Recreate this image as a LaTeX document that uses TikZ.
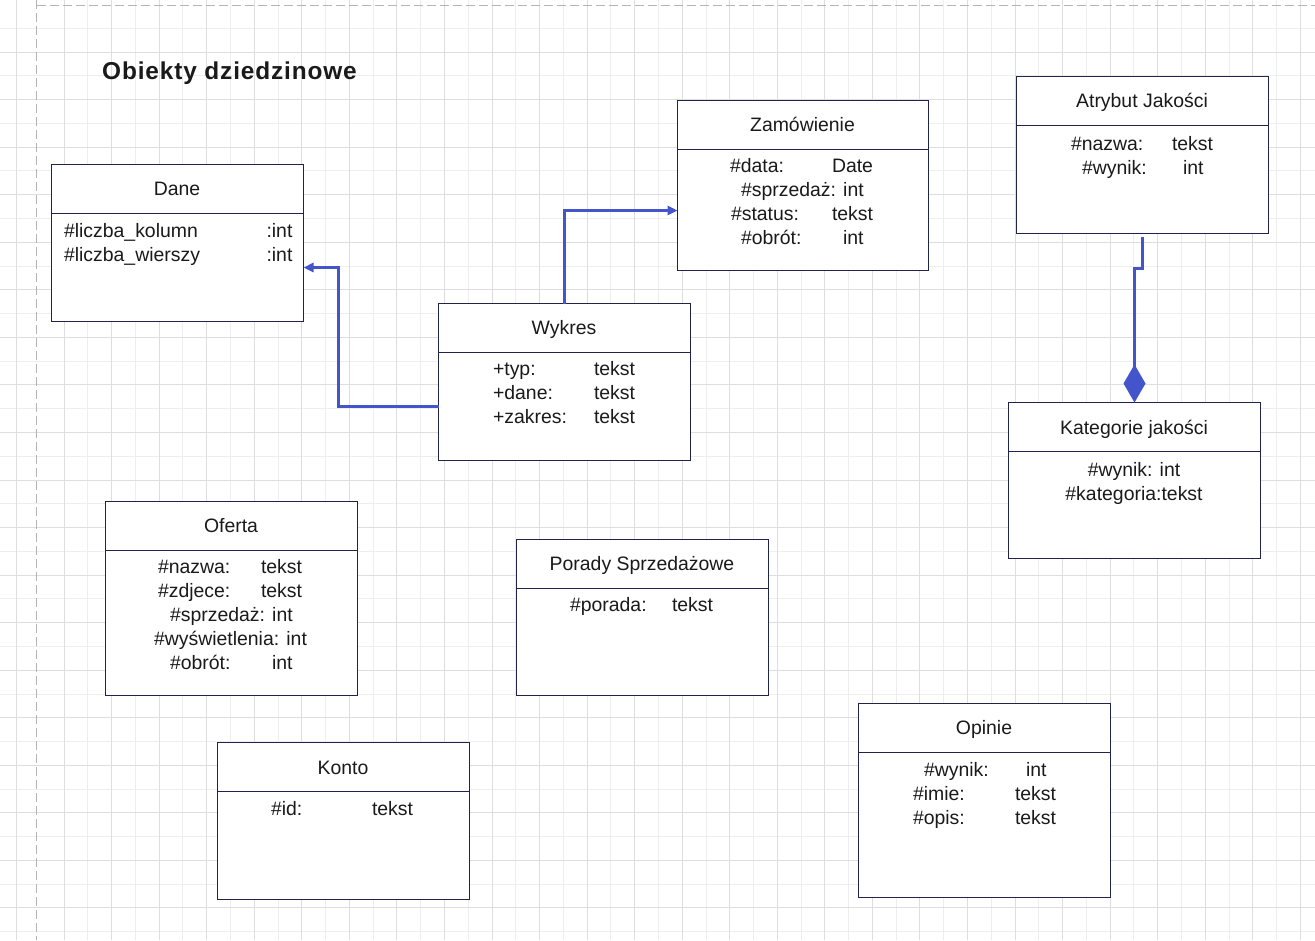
\documentclass[tikz,border=0pt]{standalone}
\usepackage{fontspec}
\setmainfont{Liberation Sans}
\newfontfamily\titlefont[LetterSpace=3.5]{Liberation Sans}
\usetikzlibrary{arrows.meta}
\definecolor{gridmajor}{HTML}{DEDEDE}
\definecolor{gridminor}{HTML}{EEEEEE}
\definecolor{pageline}{HTML}{B4B4B4}
\definecolor{boxcol}{HTML}{22234A}
\definecolor{conncol}{HTML}{4455CC}
\definecolor{txtcol}{HTML}{1A1A1A}
\begin{document}
\begin{tikzpicture}[x=1bp,y=-1bp,
  umlbox/.style={draw=boxcol, line width=1.4bp, fill=white, anchor=north west, minimum width=252bp, inner sep=0pt, outer sep=0pt},
  divline/.style={draw=boxcol, line width=1.4bp},
  txt/.style={inner sep=0pt, outer sep=0pt, text=txtcol, font=\fontsize{19.5}{24}\selectfont},
  lt/.style={txt, anchor=base west},
  ct/.style={txt, anchor=base},
  conn/.style={draw=conncol, line width=3bp, line join=miter},
  arr/.style={-{Triangle[length=10bp,width=9bp]}},
  dia/.style={-{Diamond[length=38bp,width=22bp]}}
]
\useasboundingbox (0,0) rectangle (1315,940);
\fill[white] (0,0) rectangle (1315,940);
% grid
\foreach \i in {1,...,26} {\pgfmathsetmacro\gx{floor(40.3+47.55*\i)+0.5}
  \draw[gridminor, line width=1bp] (\gx,0) -- (\gx,940);}
\foreach \i in {0,...,19} {\pgfmathsetmacro\gy{floor(28.3+47.55*\i)+0.5}
  \draw[gridminor, line width=1bp] (0,\gy) -- (1315,\gy);}
\foreach \i in {0,...,27} {\pgfmathsetmacro\gx{floor(16.5+47.55*\i)+0.5}
  \draw[gridmajor, line width=1bp] (\gx,0) -- (\gx,940);}
\foreach \i in {1,...,19} {\pgfmathsetmacro\gy{floor(4.5+47.55*\i)+0.5}
  \draw[gridmajor, line width=1bp] (0,\gy) -- (1315,\gy);}
\draw[pageline, line width=1.2bp, dash pattern=on 9bp off 4bp] (36.5,0) -- (36.5,940);
\draw[pageline, line width=1.2bp, dash pattern=on 9bp off 4bp] (36.5,5.5) -- (1315,5.5);

% title
\node[inner sep=0pt, anchor=base west, text=txtcol, font=\titlefont\bfseries\fontsize{24.5}{29}\selectfont] (title) at (102,79.5) {Obiekty dziedzinowe};

% boxes
\node[umlbox, minimum height=157bp] (dane) at (51.5,164.5) {};
\node[umlbox, minimum width=251bp, minimum height=170bp] (zam) at (677.5,100.5) {};
\node[umlbox, minimum height=157bp] (atr) at (1016.5,76.5) {};
\node[umlbox, minimum height=157bp] (wyk) at (438.5,303.5) {};
\node[umlbox, minimum height=156bp] (kat) at (1008.5,402.5) {};
\node[umlbox, minimum height=194bp] (ofe) at (105.5,501.5) {};
\node[umlbox, minimum height=156bp] (por) at (516.5,539.5) {};
\node[umlbox, minimum height=157bp] (kon) at (217.5,742.5) {};
\node[umlbox, minimum height=194bp] (opi) at (858.5,703.5) {};

\foreach \b in {dane,zam,atr,wyk,kat,ofe,por,kon,opi}
  \draw[divline] ([yshift=-49bp]\b.north west) -- ([yshift=-49bp]\b.north east);

% Dane
\node[ct] (daneh) at (177,195.3) {Dane};
\node[lt] (dane1) at (64,237.3) {\#liczba\_kolumn};
\node[lt] (dane1t) at (266.5,237.3) {:int};
\node[lt] (dane2) at (64,261.3) {\#liczba\_wierszy};
\node[lt] (dane2t) at (266.5,261.3) {:int};

% Zamowienie
\node[ct] (zamh) at (802.5,131.7) {Zamówienie};
\node[lt] (zam1) at (730,172.7) {\#data:};
\node[lt] (zam1t) at (832,172.7) {Date};
\node[lt] (zam2) at (741,196.7) {\#sprzedaż: int};
\node[lt] (zam3) at (731,220.7) {\#status:};
\node[lt] (zam3t) at (832,220.7) {tekst};
\node[lt] (zam4) at (741,244.7) {\#obrót:};
\node[lt] (zam4t) at (843,244.7) {int};

% Atrybut Jakosci
\node[ct] (atrh) at (1142,107.7) {Atrybut Jakości};
\node[lt] (atr1) at (1071,150) {\#nazwa:};
\node[lt] (atr1t) at (1172,150) {tekst};
\node[lt] (atr2) at (1082,174) {\#wynik:};
\node[lt] (atr2t) at (1183,174) {int};

% Wykres
\node[ct] (wykh) at (564,334.3) {Wykres};
\node[lt] (wyk1) at (493,375.5) {+typ:};
\node[lt] (wyk1t) at (594,375.5) {tekst};
\node[lt] (wyk2) at (493,399.5) {+dane:};
\node[lt] (wyk2t) at (594,399.5) {tekst};
\node[lt] (wyk3) at (493,423.5) {+zakres:};
\node[lt] (wyk3t) at (594,423.5) {tekst};

% Kategorie jakosci
\node[ct] (kath) at (1134,434) {Kategorie jakości};
\node[ct] (kat1) at (1134,476) {\#wynik: int};
\node[ct] (kat2) at (1134,500) {\#kategoria:tekst};

% Oferta
\node[ct] (ofeh) at (231,532.3) {Oferta};
\node[lt] (ofe1) at (158,573.3) {\#nazwa:};
\node[lt] (ofe1t) at (261,573.3) {tekst};
\node[lt] (ofe2) at (158,597.3) {\#zdjece:};
\node[lt] (ofe2t) at (261,597.3) {tekst};
\node[lt] (ofe3) at (170,621.3) {\#sprzedaż: int};
\node[lt] (ofe4) at (154,645.3) {\#wyświetlenia: int};
\node[lt] (ofe5) at (170,669.3) {\#obrót:};
\node[lt] (ofe5t) at (272,669.3) {int};

% Porady Sprzedazowe
\node[ct] (porh) at (642,570) {Porady Sprzedażowe};
\node[lt] (por1) at (570,611.5) {\#porada:};
\node[lt] (por1t) at (672,611.5) {tekst};

% Konto
\node[ct] (konh) at (343,774) {Konto};
\node[lt] (kon1) at (271,815.5) {\#id:};
\node[lt] (kon1t) at (372,815.5) {tekst};

% Opinie
\node[ct] (opih) at (984,734.3) {Opinie};
\node[lt] (opi1) at (924,776.7) {\#wynik:};
\node[lt] (opi1t) at (1026,776.7) {int};
\node[lt] (opi2) at (913,800.7) {\#imie:};
\node[lt] (opi2t) at (1015,800.7) {tekst};
\node[lt] (opi3) at (913,824.7) {\#opis:};
\node[lt] (opi3t) at (1015,824.7) {tekst};

% connectors
\draw[conn, arr] ([yshift=-24.5bp]wyk.west) -- ++(-100,0) |- ([yshift=-24.5bp]dane.east);
\draw[conn, arr] (wyk.north) |- ([yshift=-25bp]zam.west);
\draw[conn, dia] ([yshift=-3bp]atr.south) -- ++(0,32) -| (kat.north);
\end{tikzpicture}
\end{document}
